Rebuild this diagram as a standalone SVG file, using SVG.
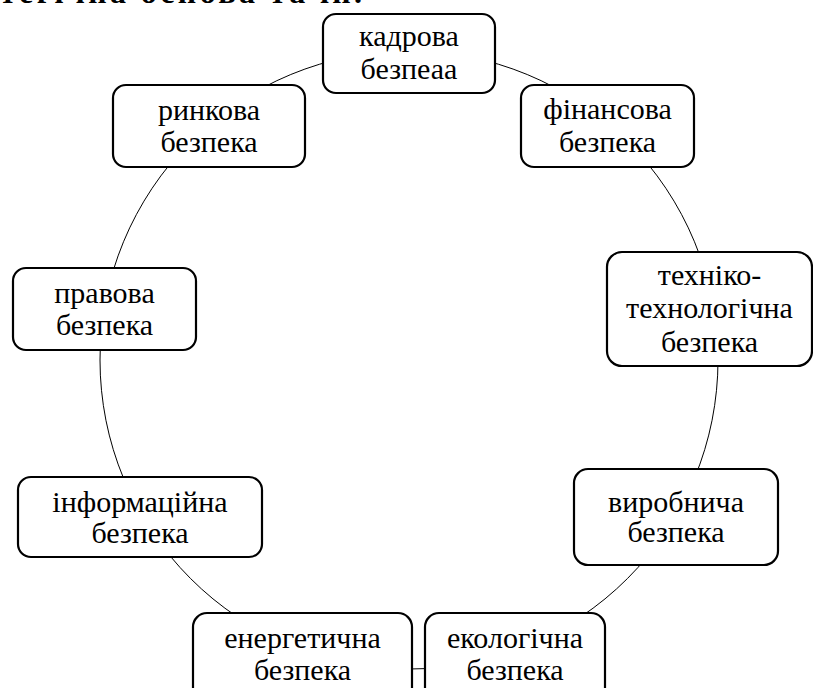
<svg xmlns="http://www.w3.org/2000/svg" width="813" height="688" viewBox="0 0 813 688">
<style>
.box{fill:#fff;stroke:#000;stroke-width:2.2}
.link{fill:none;stroke:#000;stroke-width:1}
</style>
<rect width="813" height="688" fill="#fff"/>
<text x="0" y="3" textLength="362" lengthAdjust="spacing" style="font-family:'Liberation Serif',serif;font-size:32px;font-weight:bold">тегічна основа та ін.</text>
<g id="connectors">
<circle class="link" cx="409" cy="360" r="309"/>
</g>
<g id="n-kadrova"><rect class="box" x="323" y="14" width="172" height="79" rx="13"/><text x="409" y="46" style="font-family:'Liberation Serif',serif;font-size:30px;text-anchor:middle">кадрова</text><text x="409" y="79" style="font-family:'Liberation Serif',serif;font-size:30px;text-anchor:middle">безпеаа</text></g>
<g id="n-rynkova"><rect class="box" x="113" y="85" width="192" height="82" rx="13"/><text x="209" y="120" style="font-family:'Liberation Serif',serif;font-size:30px;text-anchor:middle">ринкова</text><text x="209" y="152" style="font-family:'Liberation Serif',serif;font-size:30px;text-anchor:middle">безпека</text></g>
<g id="n-finansova"><rect class="box" x="521" y="85" width="173" height="82" rx="13"/><text x="607.5" y="119" style="font-family:'Liberation Serif',serif;font-size:30px;text-anchor:middle">фінансова</text><text x="607.5" y="152" style="font-family:'Liberation Serif',serif;font-size:30px;text-anchor:middle">безпека</text></g>
<g id="n-tekhniko"><rect class="box" x="607" y="252" width="205" height="114" rx="15"/><text x="709.5" y="285" style="font-family:'Liberation Serif',serif;font-size:30px;text-anchor:middle">техніко-</text><text x="709.5" y="318" style="font-family:'Liberation Serif',serif;font-size:30px;text-anchor:middle">технологічна</text><text x="709.5" y="352" style="font-family:'Liberation Serif',serif;font-size:30px;text-anchor:middle">безпека</text></g>
<g id="n-pravova"><rect class="box" x="13" y="268" width="183" height="82" rx="13"/><text x="104.5" y="303" style="font-family:'Liberation Serif',serif;font-size:30px;text-anchor:middle">правова</text><text x="104.5" y="335" style="font-family:'Liberation Serif',serif;font-size:30px;text-anchor:middle">безпека</text></g>
<g id="n-informatsiina"><rect class="box" x="18" y="477" width="244" height="80" rx="13"/><text x="140" y="512" style="font-family:'Liberation Serif',serif;font-size:30px;text-anchor:middle">інформаційна</text><text x="140" y="543" style="font-family:'Liberation Serif',serif;font-size:30px;text-anchor:middle">безпека</text></g>
<g id="n-vyrobnycha"><rect class="box" x="574" y="469" width="204" height="96" rx="14"/><text x="676" y="512" style="font-family:'Liberation Serif',serif;font-size:30px;text-anchor:middle">виробнича</text><text x="676" y="542" style="font-family:'Liberation Serif',serif;font-size:30px;text-anchor:middle">безпека</text></g>
<g id="n-enerhetychna"><rect class="box" x="193" y="613" width="219" height="95" rx="14"/><text x="302.5" y="648" style="font-family:'Liberation Serif',serif;font-size:30px;text-anchor:middle">енергетична</text><text x="302.5" y="680" style="font-family:'Liberation Serif',serif;font-size:30px;text-anchor:middle">безпека</text></g>
<g id="n-ekolohichna"><rect class="box" x="425" y="613" width="180" height="95" rx="14"/><text x="515" y="648" style="font-family:'Liberation Serif',serif;font-size:30px;text-anchor:middle">екологічна</text><text x="515" y="680" style="font-family:'Liberation Serif',serif;font-size:30px;text-anchor:middle">безпека</text></g>
</svg>
